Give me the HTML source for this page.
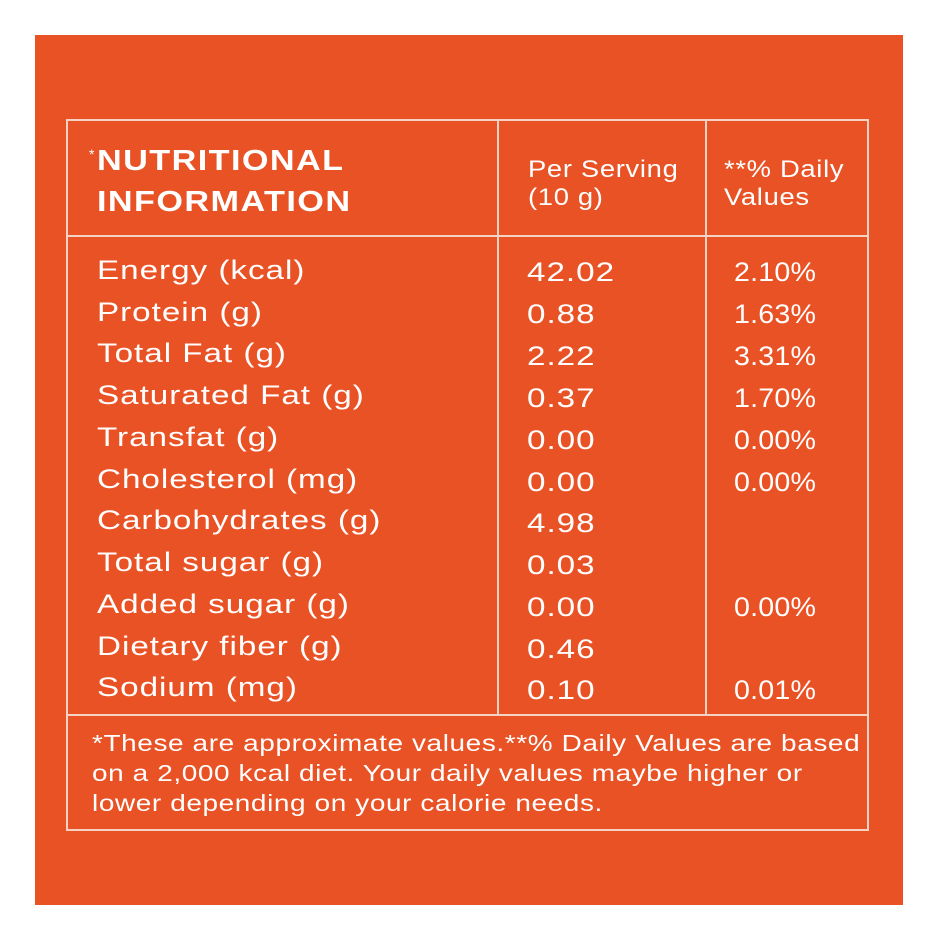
<!DOCTYPE html>
<html><head><style>
body{margin:0;width:940px;height:940px;background:#fff;position:relative;overflow:hidden;font-family:"Liberation Sans",sans-serif;color:#fff}
#bg{position:absolute;left:35px;top:35px;width:868px;height:870px;background:#E85225}
.l{position:absolute;background:#f6d2c4}
.t{position:absolute;white-space:nowrap;line-height:1;transform-origin:0 0}
.r{font-size:27px;letter-spacing:0.8px;transform:scaleX(1.23)}
.p{font-size:27px;letter-spacing:0.2px;transform:scaleX(1.06)}
.h{font-weight:bold;font-size:29px;letter-spacing:1.2px;transform:scaleX(1.18)}
.s{font-size:24px;letter-spacing:0.6px;transform:scaleX(1.14)}
.f{font-size:23px;letter-spacing:0.5px;transform:scaleX(1.215)}
</style></head><body>
<div id="bg"></div>
<div class="l" style="left:66px;top:119px;width:803px;height:2px"></div>
<div class="l" style="left:66px;top:829px;width:803px;height:2px"></div>
<div class="l" style="left:66px;top:119px;width:2px;height:712px"></div>
<div class="l" style="left:867px;top:119px;width:2px;height:712px"></div>
<div class="l" style="left:66px;top:235px;width:803px;height:2px"></div>
<div class="l" style="left:66px;top:714px;width:803px;height:2px"></div>
<div class="l" style="left:497px;top:119px;width:2px;height:597px"></div>
<div class="l" style="left:705px;top:119px;width:2px;height:597px"></div>
<div class="t" style="left:89px;top:147px;font-size:14px">*</div>
<div class="t h" style="left:97px;top:147px">NUTRITIONAL</div>
<div class="t h" style="left:97px;top:188px">INFORMATION</div>
<div class="t s" style="left:528px;top:158px">Per Serving</div>
<div class="t s" style="left:528px;top:186px">(10 g)</div>
<div class="t s" style="left:724px;top:158px">**% Daily</div>
<div class="t s" style="left:724px;top:186px">Values</div>
<div class="t r" style="left:97px;top:257px">Energy (kcal)</div><div class="t r" style="left:527px;top:259px">42.02</div><div class="t p" style="left:734px;top:259px">2.10%</div>
<div class="t r" style="left:97px;top:299px">Protein (g)</div><div class="t r" style="left:527px;top:301px">0.88</div><div class="t p" style="left:734px;top:301px">1.63%</div>
<div class="t r" style="left:97px;top:340px">Total Fat (g)</div><div class="t r" style="left:527px;top:343px">2.22</div><div class="t p" style="left:734px;top:343px">3.31%</div>
<div class="t r" style="left:97px;top:382px">Saturated Fat (g)</div><div class="t r" style="left:527px;top:385px">0.37</div><div class="t p" style="left:734px;top:385px">1.70%</div>
<div class="t r" style="left:97px;top:424px">Transfat (g)</div><div class="t r" style="left:527px;top:427px">0.00</div><div class="t p" style="left:734px;top:427px">0.00%</div>
<div class="t r" style="left:97px;top:466px">Cholesterol (mg)</div><div class="t r" style="left:527px;top:469px">0.00</div><div class="t p" style="left:734px;top:469px">0.00%</div>
<div class="t r" style="left:97px;top:507px">Carbohydrates (g)</div><div class="t r" style="left:527px;top:510px">4.98</div>
<div class="t r" style="left:97px;top:549px">Total sugar (g)</div><div class="t r" style="left:527px;top:552px">0.03</div>
<div class="t r" style="left:97px;top:591px">Added sugar (g)</div><div class="t r" style="left:527px;top:594px">0.00</div><div class="t p" style="left:734px;top:594px">0.00%</div>
<div class="t r" style="left:97px;top:633px">Dietary fiber (g)</div><div class="t r" style="left:527px;top:636px">0.46</div>
<div class="t r" style="left:97px;top:674px">Sodium (mg)</div><div class="t r" style="left:527px;top:677px">0.10</div><div class="t p" style="left:734px;top:677px">0.01%</div>
<div class="t f" style="left:92px;top:732px">*These are approximate values.**% Daily Values are based</div>
<div class="t f" style="left:92px;top:762px">on a 2,000 kcal diet. Your daily values maybe higher or</div>
<div class="t f" style="left:92px;top:792px">lower depending on your calorie needs.</div>
</body></html>
